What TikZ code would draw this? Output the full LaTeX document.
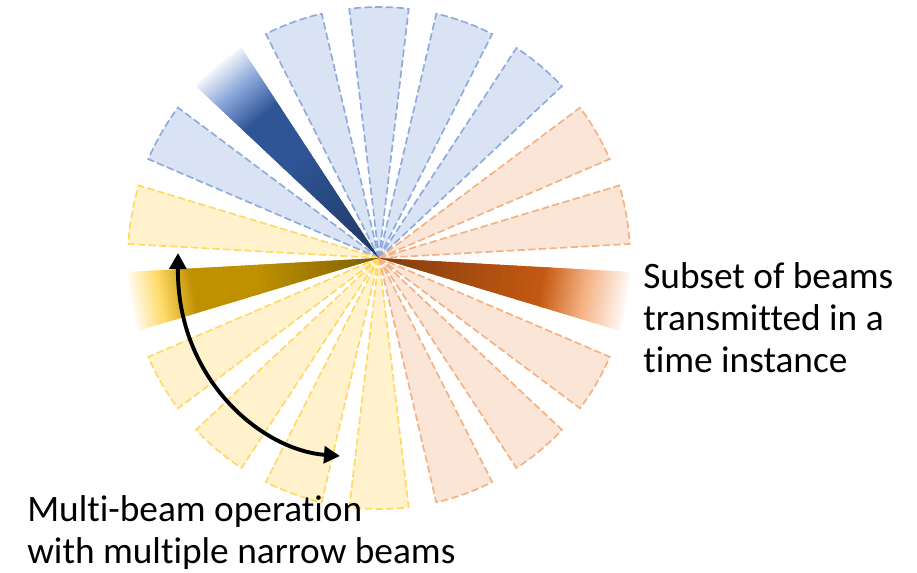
\documentclass[tikz,border=0pt]{standalone}
\usepackage{fontspec}
\setmainfont[Ligatures=NoCommon]{Carlito}
\usetikzlibrary{arrows.meta}
\definecolor{bfill}{HTML}{DAE3F3}
\definecolor{bline}{HTML}{8FAADC}
\definecolor{yfill}{HTML}{FFF2CC}
\definecolor{yline}{HTML}{FFD966}
\definecolor{ofill}{HTML}{FBE5D6}
\definecolor{oline}{HTML}{F4B183}
\definecolor{bA}{HTML}{1F3864}
\definecolor{bB}{HTML}{2F5597}
\definecolor{yA}{HTML}{7F6000}
\definecolor{yB}{HTML}{BF9000}
\definecolor{yC}{HTML}{FFD966}
\definecolor{oA}{HTML}{843C0C}
\definecolor{oB}{HTML}{C55A11}
\definecolor{oC}{HTML}{F4B183}
\newcommand{\gseg}[4]{%
  \foreach \k in {0,...,19}{%
    \pgfmathsetmacro\pa{(#1+(#2-#1)*\k/20)*253}%
    \pgfmathsetmacro\pb{(#1+(#2-#1)*(\k+1.8)/20)*253}%
    \pgfmathtruncatemacro\pc{\k*5}%
    \fill[#4!\pc!#3] (\pa,-45) rectangle (\pb,45);
  }}
\tikzset{
  beamshape/.style={line width=1.25pt, dash pattern=on 5.5pt off 2.5pt},
  beamb/.style={beamshape, fill=bfill, draw=bline},
  beamy/.style={beamshape, fill=yfill, draw=yline},
  beamo/.style={beamshape, fill=ofill, draw=oline},
  lbl/.style={font=\fontsize{28}{31.5}\selectfont, align=left, inner sep=0pt},
  arr/.style={line width=2.9pt, {Triangle[length=12pt,width=12.5pt]}-{Triangle[length=12pt,width=12.5pt]}}
}
\begin{document}
\begin{tikzpicture}[x=0.75pt, y=0.75pt]
\useasboundingbox (0,0) rectangle (917,-572);
\coordinate (C) at (379,-258);
% plain beams
\foreach \a in {50,70,90,110,150}
  \path[beamb] (C) -- ++({\a-6.8}:251) arc[start angle={\a-6.8}, end angle={\a+6.8}, radius=251] -- cycle;
\foreach \a in {170,210,230,250,270}
  \path[beamy] (C) -- ++({\a-6.8}:251) arc[start angle={\a-6.8}, end angle={\a+6.8}, radius=251] -- cycle;
\foreach \a in {290,310,330,10,30}
  \path[beamo] (C) -- ++({\a-6.8}:251) arc[start angle={\a-6.8}, end angle={\a+6.8}, radius=251] -- cycle;
% gradient beams
\begin{scope}[shift={(C)}, rotate=130]
  \clip (0,0) -- (-6.8:251) arc[start angle=-6.8, end angle=6.8, radius=251] -- cycle;
  \gseg{0}{0.5}{bA}{bB}
  \gseg{0.5}{0.72}{bB}{bB}
  \gseg{0.72}{0.87}{bB}{bline}
  \gseg{0.87}{1.0}{bline}{white}
\end{scope}
\begin{scope}[shift={(C)}, rotate=190]
  \clip (0,0) -- (-6.8:251) arc[start angle=-6.8, end angle=6.8, radius=251] -- cycle;
  \gseg{0}{0.48}{yA}{yB}
  \gseg{0.48}{0.74}{yB}{yB}
  \gseg{0.74}{0.87}{yB}{yC}
  \gseg{0.87}{1.0}{yC}{white}
\end{scope}
\begin{scope}[shift={(C)}, rotate=-10]
  \clip (0,0) -- (-6.8:251) arc[start angle=-6.8, end angle=6.8, radius=251] -- cycle;
  \gseg{0}{0.65}{oA}{oB}
  \gseg{0.65}{0.82}{oB}{oC}
  \gseg{0.82}{1.0}{oC}{white}
\end{scope}
% arrow
\coordinate (a1) at (178,-253);
\coordinate (a2) at (340,-456);
\draw[arr] (a1) .. controls (177,-380) and (262,-450) .. (a2);
% labels (base anchor = baseline of last line)
\node[lbl, anchor=base west] (t1) at (643,-372) {Subset of beams\\transmitted in a\\time instance};
\node[lbl, anchor=base west] (t2) at (27,-563) {Multi-beam operation\\with multiple narrow beams};
\end{tikzpicture}
\end{document}
